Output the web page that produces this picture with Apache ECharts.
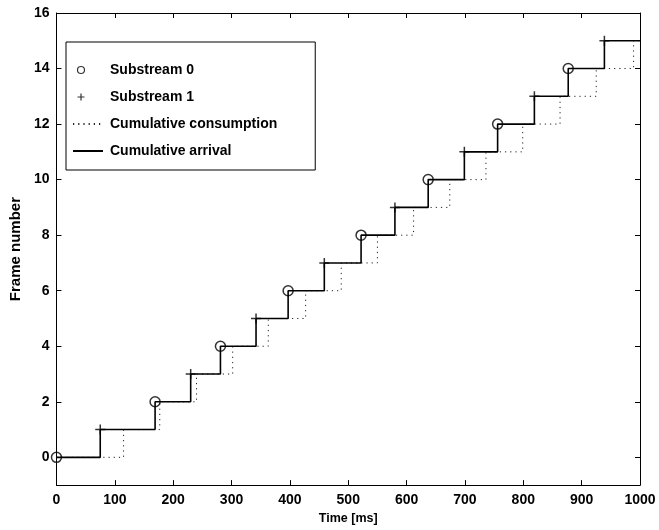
<!DOCTYPE html>
<html>
<head>
<meta charset="utf-8">
<title>Frame arrival vs consumption</title>
<script src="https://cdn.jsdelivr.net/npm/echarts@6/dist/echarts.min.js"></script>
<style>
  html, body { margin: 0; padding: 0; background: #fff; }
  #chart { width: 659px; height: 530px; }
</style>
</head>
<body>
<div id="chart"></div>
<script>
// arrival time (ms) of frame k, k = 0..15 (even = substream 0, odd = substream 1)
const arrivalTimes = [0, 75, 169, 230, 281, 342, 397, 459, 522, 580, 637, 699, 756, 819, 877, 939];
// time (ms) at which the consumed frame count steps up to 1, 2, ... 15
const consumeTimes = [115, 177, 240, 302, 363, 427, 488, 550, 612, 674, 736, 799, 863, 925, 989];
const yTicks = [0, 2, 4, 6, 8, 10, 12, 14, 16];
const tEnd = 1000;

const sub0 = [], sub1 = [], arrival = [], consumption = [[0, 0]];
arrivalTimes.forEach((t, k) => {
  (k % 2 === 0 ? sub0 : sub1).push([t, k]);
  arrival.push([t, k]);
});
arrival.push([tEnd, arrivalTimes.length - 1]);
consumeTimes.forEach((t, i) => consumption.push([t, i + 1]));
consumption.push([tEnd, consumeTimes.length]);

const font = 'Arial, "Liberation Sans", Helvetica, sans-serif';
const tickLabel = { color: '#000', fontFamily: font, fontSize: 14, fontWeight: 'bold' };
const edge = { show: true, onZero: false, lineStyle: { color: '#000', width: 1 } };
const inTick = { show: true, inside: true, length: 5, lineStyle: { color: '#000', width: 1 } };
const noDot = { color: 'transparent', borderColor: 'transparent', borderWidth: 0 };

const pad = 'M0,0L0,0M30,10L30,10';
const chart = echarts.init(document.getElementById('chart'));
chart.setOption({
  animation: false,
  grid: { left: 50, right: 19, top: 13, bottom: 42 },
  legend: {
    orient: 'vertical',
    left: 66, top: 42,
    padding: [21, 38, 12, 6],
    itemWidth: 30, itemHeight: 10, itemGap: 13,
    borderColor: '#000', borderWidth: 1, borderRadius: 0,
    backgroundColor: '#fff',
    textStyle: { color: '#000', fontFamily: font, fontSize: 14, fontWeight: 'bold', lineHeight: 14, padding: [0, 0, 0, 2] },
    data: [
      { name: 'Substream 0', icon: 'path://' + pad + 'M4.5,5a3.5,3.5 0 1,0 7,0a3.5,3.5 0 1,0 -7,0',
        itemStyle: { color: 'transparent', borderColor: '#000', borderWidth: 1.2 } },
      { name: 'Substream 1', icon: 'path://' + pad + 'M8,1.5L8,8.5M4.5,5L11.5,5',
        itemStyle: { color: 'transparent', borderColor: '#000', borderWidth: 1.2 } },
      { name: 'Cumulative consumption', itemStyle: noDot },
      { name: 'Cumulative arrival', itemStyle: noDot }
    ]
  },
  xAxis: [{
    type: 'value', min: 0, max: tEnd, interval: 100,
    name: 'Time [ms]', nameLocation: 'middle', nameGap: 22,
    nameTextStyle: { color: '#000', fontFamily: font, fontSize: 12.5, fontWeight: 'bold' },
    axisLine: edge, axisTick: inTick, splitLine: { show: false },
    axisLabel: Object.assign({ margin: 8, formatter: v => String(v) }, tickLabel)
  }, {
    type: 'value', position: 'top', min: 0, max: tEnd, interval: 100,
    axisLine: edge, axisTick: inTick, axisLabel: { show: false }, splitLine: { show: false }
  }],
  yAxis: [{
    type: 'value', min: -1, max: 16,
    name: 'Frame number', nameLocation: 'middle', nameGap: 30,
    nameTextStyle: { color: '#000', fontFamily: font, fontSize: 15, fontWeight: 'bold' },
    axisLine: edge, splitLine: { show: false },
    axisTick: Object.assign({ customValues: yTicks }, inTick),
    axisLabel: Object.assign({ margin: 7, customValues: yTicks }, tickLabel)
  }, {
    type: 'value', position: 'right', min: -1, max: 16,
    axisLine: edge, splitLine: { show: false },
    axisTick: Object.assign({ customValues: yTicks }, inTick),
    axisLabel: { show: false, customValues: yTicks }
  }],
  series: [{
    name: 'Cumulative consumption', type: 'line', step: 'end',
    data: consumption, symbol: 'none', z: 2,
    lineStyle: { color: '#222', width: 1, type: [1.2, 4] },
    itemStyle: { color: '#222' }
  }, {
    name: 'Cumulative arrival', type: 'line', step: 'end',
    data: arrival, symbol: 'none', z: 3,
    lineStyle: { color: '#000', width: 1.6 },
    itemStyle: { color: '#000' }
  }, {
    name: 'Substream 0', type: 'scatter', data: sub0, z: 4,
    symbol: 'circle', symbolSize: 10,
    itemStyle: { color: 'transparent', borderColor: '#000', borderWidth: 1.5 }
  }, {
    name: 'Substream 1', type: 'scatter', data: sub1, z: 4,
    symbol: 'path://M5,0L5,10M0,5L10,5', symbolSize: 10,
    itemStyle: { color: 'transparent', borderColor: '#000', borderWidth: 1.5 }
  }]
});
</script>
</body>
</html>
